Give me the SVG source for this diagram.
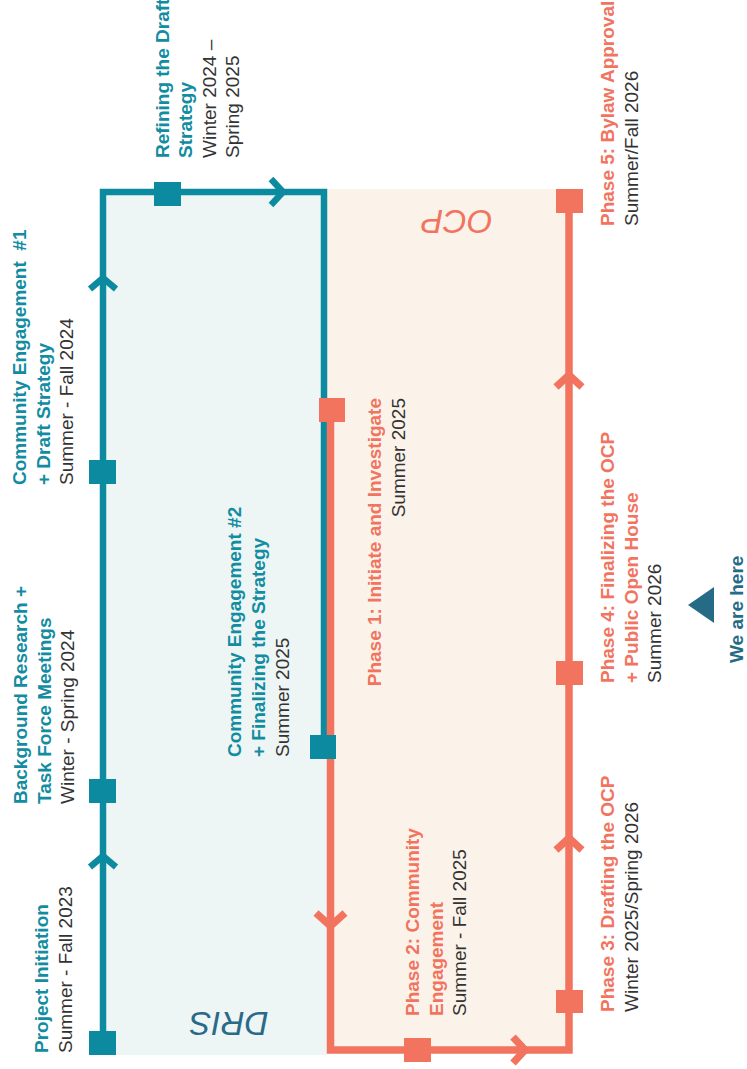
<svg xmlns="http://www.w3.org/2000/svg" width="747" height="1069" viewBox="0 0 747 1069">
<style>
.t{font-family:"Liberation Sans",Arial,sans-serif;font-size:19px}
.tb{font-weight:bold}
.teal{fill:#128ca1}
.sal{fill:#f2745f}
.dk{fill:#333333}
.big{font-family:"Liberation Sans",Arial,sans-serif;font-size:33px;font-style:italic}
.lnT{fill:none;stroke:#0b8aa0;stroke-width:6.5;stroke-linejoin:miter}
.lnS{fill:none;stroke:#f2745f;stroke-width:7.5;stroke-linejoin:miter}
.sqT{fill:#0b8aa0}
.sqS{fill:#f2745f}
</style>
<rect width="747" height="1069" fill="#ffffff"/>
<g id="regions">
<rect x="100" y="189" width="227" height="866" fill="#eef6f5"/>
<rect x="327" y="189" width="240" height="864" fill="#fbf3ea"/>
<text class="big" fill="#2a6a89" text-anchor="middle" transform="translate(229,1012) rotate(180)">DRIS</text>
<text class="big" fill="#f2745f" text-anchor="middle" transform="translate(457,210) rotate(180)">OCP</text>
</g>
<g id="connectors">
<path class="lnT" d="M103,1043 V192 H324 V747"/>
<path class="lnS" d="M330.5,410 V1050 H569 V200"/>
<polyline class="lnT" points="90,867 103,856 116,867"/>
<polyline class="lnT" points="90,289 103,278 116,289"/>
<polyline class="lnT" points="271,179 283,192 271,205"/>
<polyline class="lnS" points="316,913 330.5,926 345,913"/>
<polyline class="lnS" points="513,1037 525,1050 513,1063"/>
<polyline class="lnS" points="556,850 569,838 582,850"/>
<polyline class="lnS" points="556,387 569,375 582,387"/>
</g>
<g id="project-initiation">
<rect class="sqT" x="89" y="1031" width="27" height="24"/>
<text class="t" transform="translate(48,1053) rotate(-90)"><tspan class="tb teal" x="0" dy="0">Project Initiation</tspan><tspan class="dk" x="0" dy="24">Summer - Fall 2023</tspan></text>
</g>
<g id="background-research">
<rect class="sqT" x="89" y="779" width="27" height="24"/>
<text class="t" transform="translate(27,804) rotate(-90)"><tspan class="tb teal" x="0" dy="0">Background Research +</tspan><tspan class="tb teal" x="0" dy="23.5">Task Force Meetings</tspan><tspan class="dk" x="0" dy="23.5">Winter - Spring 2024</tspan></text>
</g>
<g id="community-engagement-1">
<rect class="sqT" x="89" y="460" width="27" height="24"/>
<text class="t" transform="translate(26,485) rotate(-90)"><tspan class="tb teal" x="0" dy="0">Community Engagement&#160; #1</tspan><tspan class="tb teal" x="0" dy="23.5">+ Draft Strategy</tspan><tspan class="dk" x="0" dy="23.5">Summer - Fall 2024</tspan></text>
</g>
<g id="refining-draft">
<rect class="sqT" x="154" y="182" width="27" height="24"/>
<text class="t" transform="translate(169,158) rotate(-90)"><tspan class="tb teal" x="0" dy="0">Refining the Draft</tspan><tspan class="tb teal" x="0" dy="23.3">Strategy</tspan><tspan class="dk" x="0" dy="23.3">Winter 2024 –</tspan><tspan class="dk" x="0" dy="23.3">Spring 2025</tspan></text>
</g>
<g id="community-engagement-2">
<rect class="sqT" x="310" y="735" width="26" height="24"/>
<text class="t" transform="translate(241,757) rotate(-90)"><tspan class="tb teal" x="0" dy="0">Community Engagement #2</tspan><tspan class="tb teal" x="0" dy="24">+ Finalizing the Strategy</tspan><tspan class="dk" x="0" dy="24">Summer 2025</tspan></text>
</g>
<g id="phase-1">
<rect class="sqS" x="319" y="398" width="26" height="24"/>
<text class="t" text-anchor="end" transform="translate(381,398) rotate(-90)"><tspan class="tb sal" x="0" dy="0">Phase 1: Initiate and Investigate</tspan><tspan class="dk" x="0" dy="24">Summer 2025</tspan></text>
</g>
<g id="phase-2">
<rect class="sqS" x="404" y="1038" width="27" height="24"/>
<text class="t" transform="translate(419,1016) rotate(-90)"><tspan class="tb sal" x="0" dy="0">Phase 2: Community</tspan><tspan class="tb sal" x="0" dy="23.5">Engagement</tspan><tspan class="dk" x="0" dy="23.5">Summer - Fall 2025</tspan></text>
</g>
<g id="phase-3">
<rect class="sqS" x="556" y="990" width="27" height="23"/>
<text class="t" transform="translate(614,1012) rotate(-90)"><tspan class="tb sal" x="0" dy="0">Phase 3: Drafting the OCP</tspan><tspan class="dk" x="0" dy="24">Winter 2025/Spring 2026</tspan></text>
</g>
<g id="phase-4">
<rect class="sqS" x="556" y="661" width="27" height="24"/>
<text class="t" transform="translate(614,683) rotate(-90)"><tspan class="tb sal" x="0" dy="0">Phase 4: Finalizing the OCP</tspan><tspan class="tb sal" x="0" dy="23.5">+ Public Open House</tspan><tspan class="dk" x="0" dy="23.5">Summer 2026</tspan></text>
</g>
<g id="phase-5">
<rect class="sqS" x="556" y="189" width="27" height="24"/>
<text class="t" transform="translate(614,226) rotate(-90)"><tspan class="tb sal" x="0" dy="0">Phase 5: Bylaw Approval</tspan><tspan class="dk" x="0" dy="24">Summer/Fall 2026</tspan></text>
</g>
<g id="we-are-here">
<polygon points="688,605 714,587 714,623" fill="#256b86"/>
<text class="t tb" fill="#256b86" transform="translate(743,663) rotate(-90)">We are here</text>
</g>
</svg>
